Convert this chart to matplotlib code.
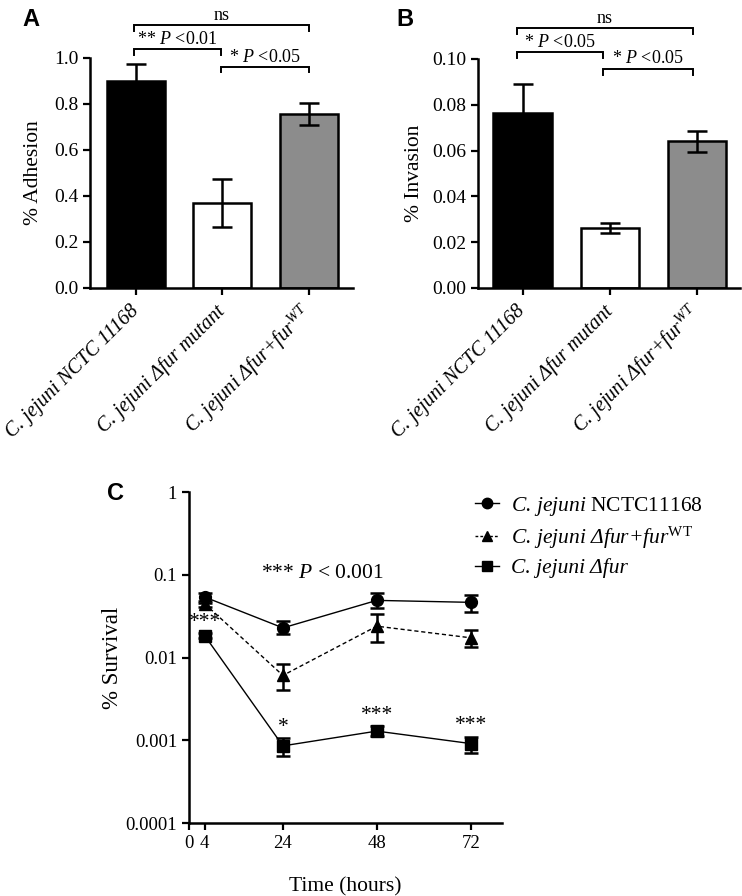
import numpy as np
import matplotlib
matplotlib.use('Agg')
import matplotlib.pyplot as plt
from matplotlib.lines import Line2D

plt.rcParams['font.family'] = ['Liberation Serif', 'DejaVu Serif']
plt.rcParams['mathtext.fontset'] = 'custom'
plt.rcParams['mathtext.rm'] = 'Liberation Serif'
plt.rcParams['mathtext.it'] = 'Liberation Serif:italic'
plt.rcParams['mathtext.bf'] = 'Liberation Serif:bold'

# ---- data ----
strains = ['C. jejuni NCTC 11168', 'C. jejuni \u0394fur mutant', 'C. jejuni \u0394fur+fur$^{WT}$']
bar_colors = ['black', 'white', '#8c8c8c']

adhesion = [0.90, 0.37, 0.757]
adhesion_err = [0.072, 0.103, 0.048]

invasion = [0.0765, 0.0262, 0.0640]
invasion_err = [0.0125, 0.0024, 0.0046]

time_h = [4, 24, 48, 72]
surv_wt = [0.0538, 0.0228, 0.049, 0.0464]
surv_wt_lo = [0.045, 0.019, 0.040, 0.0355]
surv_wt_hi = [0.061, 0.0274, 0.060, 0.0564]
surv_comp = [0.0447, 0.00607, 0.0239, 0.0173]
surv_comp_lo = [0.041, 0.0040, 0.0155, 0.0133]
surv_comp_hi = [0.048, 0.00824, 0.0336, 0.0213]
surv_fur = [0.0184, 0.000855, 0.00129, 0.000912]
surv_fur_lo = [0.0172, 0.000646, 0.00113, 0.00071]
surv_fur_hi = [0.0196, 0.00105, 0.00149, 0.0011]
fur_stars = ['***', '*', '***', '***']

W, H = 742, 896
fig = plt.figure(figsize=(W / 100, H / 100), dpi=100)


def px_axes(l, t, r, b):
    return fig.add_axes([l / W, 1 - b / H, (r - l) / W, (b - t) / H])


def style_axes(ax):
    for s in ['top', 'right']:
        ax.spines[s].set_visible(False)
    for s in ['left', 'bottom']:
        ax.spines[s].set_linewidth(1.8)
    ax.tick_params(width=1.6, length=5, labelsize=14)


def bracket(ax, x0, x1, y, tip, text, ty):
    ax.plot([x0, x0, x1, x1], [y - tip, y, y, y - tip], color='black', lw=1.4,
            clip_on=False, solid_joinstyle='miter')
    ax.text((x0 + x1) / 2, ty, text, ha='center', va='center', fontsize=13, clip_on=False)


def bar_panel(ax, vals, errs, ymax, step, fmt):
    x = np.arange(len(vals))
    ax.bar(x, vals, width=0.67, color=bar_colors, edgecolor='black', linewidth=1.8, zorder=2)
    ax.errorbar(x, vals, yerr=errs, fmt='none', ecolor='black', elinewidth=1.8,
                capsize=7, capthick=1.8, zorder=3)
    ax.set_ylim(0, ymax)
    ax.set_yticks(np.arange(0, ymax + step / 2, step))
    ax.yaxis.set_major_formatter(matplotlib.ticker.FormatStrFormatter(fmt))
    ax.set_xticks(x)
    style_axes(ax)
    ax.set_xticklabels(strains, rotation=45, ha='right', va='center', rotation_mode='anchor',
                       fontstyle='italic', fontsize=14.6)
    ax.tick_params(axis='x', pad=10)


# ---- Panel A ----
axA = px_axes(90, 58, 353, 288)
bar_panel(axA, adhesion, adhesion_err, 1.0, 0.2, '%.1f')
axA.set_xlim(-0.53, 2.51)
axA.set_ylabel('% Adhesion', fontsize=15.5, labelpad=8)
bracket(axA, -0.02, 2.0, 1.143, 0.026, 'ns', 1.185)
bracket(axA, -0.02, 0.98, 1.039, 0.026, '** $P$ <0.01', 1.080)
bracket(axA, 0.98, 2.0, 0.961, 0.022, '* $P$ <0.05', 1.004)

# ---- Panel B ----
axB = px_axes(478, 59, 740, 288)
bar_panel(axB, invasion, invasion_err, 0.10, 0.02, '%.2f')
axB.set_xlim(-0.51, 2.49)
axB.set_ylabel('% Invasion', fontsize=15.5, labelpad=6)
bracket(axB, -0.06, 1.95, 0.1135, 0.0026, 'ns', 0.1178)
bracket(axB, -0.06, 0.925, 0.1030, 0.0026, '* $P$ <0.05', 0.1073)
bracket(axB, 0.925, 1.95, 0.0957, 0.0026, '* $P$ <0.05', 0.1000)

# ---- Panel C ----
axC = px_axes(189, 492, 502, 823)
t = np.array(time_h)


def series(vals, lo, hi, marker, ls, label):
    v = np.array(vals)
    yerr = [v - np.array(lo), np.array(hi) - v]
    axC.errorbar(t, v, yerr=yerr, color='black', marker=marker, markersize=8.5,
                 linestyle=ls, linewidth=1.0, elinewidth=1.8, capsize=5, capthick=1.8,
                 label=label)


series(surv_wt, surv_wt_lo, surv_wt_hi, 'o', '-', 'wt')
series(surv_comp, surv_comp_lo, surv_comp_hi, '^', (0, (3, 2)), 'comp')
series(surv_fur, surv_fur_lo, surv_fur_hi, 's', '-', 'fur')

axC.set_yscale('log')
axC.set_ylim(1e-4, 1)
axC.set_yticks([1e-4, 1e-3, 1e-2, 1e-1, 1])
axC.set_yticklabels(['0.0001', '0.001', '0.01', '0.1', '1'])
axC.minorticks_off()
axC.set_xlim(0, 80)
axC.set_xticks([0, 4, 24, 48, 72])
axC.set_xticklabels(['0', '4', '24', '48', '72'])
style_axes(axC)
axC.tick_params(labelsize=13.5)
axC.set_ylabel('% Survival', fontsize=16.5, labelpad=2)
axC.set_xlabel('Time (hours)', fontsize=15.5, labelpad=18)

for ti, v, s in zip(time_h, surv_fur_hi, fur_stars):
    axC.annotate(s, (ti, v), xytext=(0, 1), textcoords='offset points',
                 ha='center', va='bottom', fontsize=15.5)
axC.text(34, 0.104, '*** $P$ < 0.001', ha='center', va='center', fontsize=15.5)

handles = [
    Line2D([], [], color='black', marker='o', markersize=7.5, lw=1.0),
    Line2D([], [], color='black', marker='^', markersize=7.5, lw=1.0, linestyle=(0, (2, 1.5))),
    Line2D([], [], color='black', marker='s', markersize=7.5, lw=1.0),
]
labels = [
    'C. jejuni $\\mathrm{NCTC11168}$',
    'C. jejuni \u0394fur+fur$^{\\mathrm{WT}}$',
    'C. jejuni \u0394fur',
]
fig.legend(handles, labels, loc='upper left', bbox_to_anchor=(475 / W, 1 - 495 / H),
           frameon=False, borderpad=0, borderaxespad=0, handlelength=1.1,
           handletextpad=0.55, labelspacing=0.32,
           prop={'family': 'Liberation Serif', 'style': 'italic', 'size': 15.5})

# ---- panel letters ----
for letter, x, y in [('A', 22, 8), ('B', 396, 8), ('C', 107, 482)]:
    fig.text(x / W, 1 - y / H, letter, ha='left', va='top', fontsize=17, fontweight='bold',
             family=['Liberation Sans Narrow', 'Liberation Sans'])

fig.savefig('out.png', dpi=100)
